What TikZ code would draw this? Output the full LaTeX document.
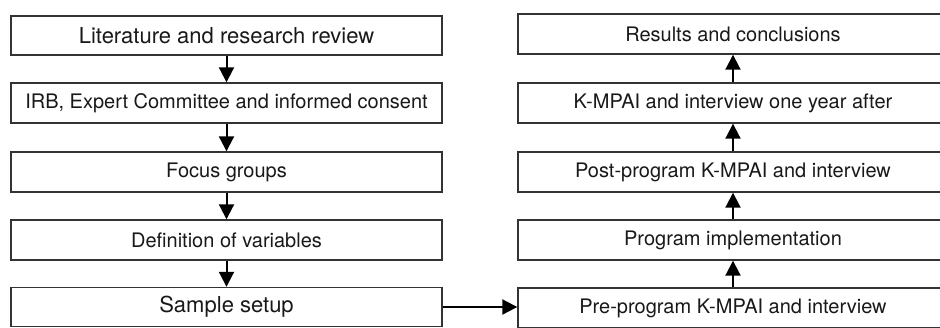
\documentclass[tikz,border=0pt]{standalone}
\usepackage{fontspec}
\setmainfont{TeX Gyre Heros}
\usetikzlibrary{arrows.meta}
\begin{document}
\begin{tikzpicture}[x=1pt,y=-1pt,
  box/.style={draw=black!80, line width=1.4pt, fill=white, inner sep=0pt,
    text=black!90, minimum width=431pt, minimum height=40pt,
    font=\fontsize{20}{24}\selectfont},
  big/.style={font=\fontsize{22}{26}\selectfont},
  arr/.style={line width=2pt, draw=black, -{Triangle[length=15pt,width=15pt]}}]
\useasboundingbox (0,0) rectangle (940,327);
\clip (0,0) rectangle (940,327);
% left column
\node[box,big,minimum height=39pt] (l1) at (226.5,35.5) {Literature and research review};
\node[box] (l2) at (226.5,103) {IRB, Expert Committee and informed consent};
\node[box] (l3) at (226.5,172) {Focus groups};
\node[box] (l4) at (226.5,240) {Definition of variables};
\node[box,big,minimum height=39pt] (l5) at (226.5,307) {Sample setup};
% right column
\node[box,minimum width=430pt] (r1) at (733,34) {Results and conclusions};
\node[box,minimum width=430pt] (r2) at (733,103) {K-MPAI and interview one year after};
\node[box,minimum width=430pt] (r3) at (733,172) {Post-program K-MPAI and interview};
\node[box,minimum width=430pt] (r4) at (733,240) {Program implementation};
\node[box,minimum width=430pt] (r5) at (733,308) {Pre-program K-MPAI and interview};
% arrows
\draw[arr] (l1.south) -- (l2.north);
\draw[arr] (l2.south) -- (l3.north);
\draw[arr] (l3.south) -- (l4.north);
\draw[arr] (l4.south) -- (l5.north);
\draw[arr] (l5.east) -- (l5.east -| r5.west);
\draw[arr] (r5.north) -- (r4.south);
\draw[arr] (r4.north) -- (r3.south);
\draw[arr] (r3.north) -- (r2.south);
\draw[arr] (r2.north) -- (r1.south);
\end{tikzpicture}
\end{document}
